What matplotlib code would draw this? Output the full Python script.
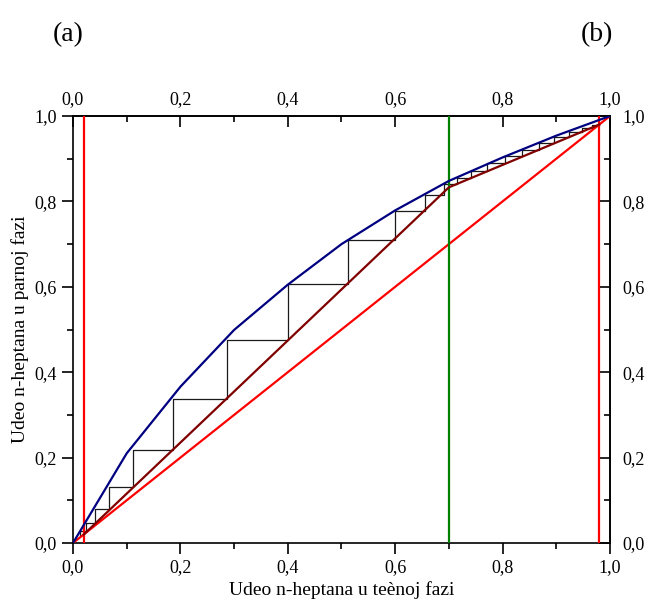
import numpy as np
import matplotlib
matplotlib.use("Agg")
import matplotlib.pyplot as plt
from matplotlib.ticker import MultipleLocator, FuncFormatter

plt.rcParams['font.family'] = ['Liberation Serif', 'DejaVu Serif']

# Equilibrium curve (liquid x, vapour y)
eqX = [0.0, 0.1, 0.2, 0.3, 0.4, 0.5, 0.6, 0.7, 0.8, 0.9, 1.0]
eqY = [0.0, 0.21, 0.366, 0.499, 0.605, 0.70, 0.779, 0.848, 0.903, 0.954, 1.0]

# Operating lines (stripping + enriching), feed line and limits
opX = [0.02, 0.70, 0.98]
opY = [0.02, 0.833, 0.98]
xW = 0.02
xF = 0.70
xD = 0.98

# Staircase: vertical positions (x) and horizontal positions (y)
stepV = [0.014, 0.024, 0.041, 0.068, 0.112, 0.186, 0.286, 0.401, 0.513,
         0.600, 0.655, 0.690, 0.716, 0.742, 0.771, 0.804, 0.837, 0.868,
         0.896, 0.924, 0.947, 0.966, 0.980]
stepH = [0.029, 0.048, 0.079, 0.132, 0.219, 0.337, 0.475, 0.607, 0.709,
         0.778, 0.816, 0.840, 0.855, 0.871, 0.889, 0.906, 0.921, 0.936,
         0.951, 0.963, 0.973, 0.980]
stepStart = 0.017

ticks = [0.0, 0.2, 0.4, 0.6, 0.8, 1.0]

fig = plt.figure(figsize=(6.47, 6.10), dpi=100)
ax = fig.add_axes([0.1128, 0.1098, 0.83, 0.70])

# staircase path
sx = [stepV[0]]
sy = [stepStart]
for i in range(len(stepH)):
    sx += [stepV[i], stepV[i + 1]]
    sy += [stepH[i], stepH[i]]
ax.plot(sx, sy, color='#1a1a1a', lw=0.9, zorder=2)

ax.plot([0, 1], [0, 1], color='#ff0000', lw=1.6, zorder=3)
ax.axvline(xW, color='#ff0000', lw=1.6, zorder=3)
ax.axvline(xD, color='#ff0000', lw=1.6, zorder=3)
ax.axvline(xF, color='#008000', lw=1.6, zorder=3)
ax.plot(opX, opY, color='#800000', lw=1.6, zorder=4)
ax.plot(eqX, eqY, color='#000080', lw=1.6, zorder=5)

ax.set_xlim(0, 1)
ax.set_ylim(0, 1)

comma = FuncFormatter(lambda v, p: ('%.1f' % v).replace('.', ','))

# bottom/left ticks point out
ax.set_xticks(ticks)
ax.set_yticks(ticks)
ax.xaxis.set_minor_locator(MultipleLocator(0.1))
ax.yaxis.set_minor_locator(MultipleLocator(0.1))
ax.xaxis.set_major_formatter(comma)
ax.yaxis.set_major_formatter(comma)
ax.tick_params(which='both', direction='out', labelsize=13, width=1.2, top=False, right=False)
ax.tick_params(which='major', length=8)
ax.tick_params(which='minor', length=4)

# top/right ticks point in
top = ax.secondary_xaxis('top')
right = ax.secondary_yaxis('right')
for sec in (top, right):
    sec.set_ticks(ticks)
    sec.tick_params(which='both', direction='in', labelsize=13, width=1.2, pad=6)
    sec.tick_params(which='major', length=8)
    sec.tick_params(which='minor', length=4)
top.xaxis.set_minor_locator(MultipleLocator(0.1))
top.xaxis.set_major_formatter(comma)
right.yaxis.set_minor_locator(MultipleLocator(0.1))
right.yaxis.set_major_formatter(comma)
right.tick_params(pad=9)

for s in ax.spines.values():
    s.set_linewidth(1.2)
top.spines['top'].set_linewidth(1.2)
right.spines['right'].set_linewidth(1.2)

ax.set_xlabel("Udeo n-heptana u teènoj fazi", fontsize=14, labelpad=4)
ax.set_ylabel("Udeo n-heptana u parnoj fazi", fontsize=14, labelpad=4)

fig.text(0.105, 0.944, "(a)", fontsize=20, ha='center', va='center')
fig.text(0.923, 0.944, "(b)", fontsize=20, ha='center', va='center')

fig.savefig("out.png", dpi=100)
